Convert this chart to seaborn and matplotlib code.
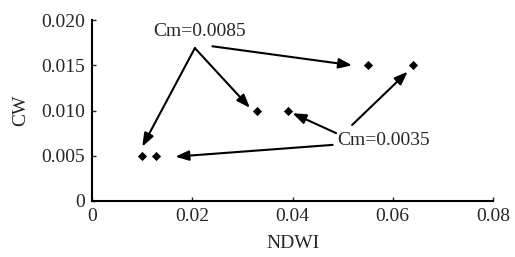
import matplotlib
matplotlib.use("Agg")
import matplotlib.pyplot as plt
import seaborn as sns
import pandas as pd

# points
ndwi_high = [0.055, 0.033, 0.010]   # Cm=0.0085
cw_high = [0.015, 0.010, 0.005]
ndwi_low = [0.064, 0.039, 0.0127]   # Cm=0.0035
cw_low = [0.015, 0.010, 0.005]

x_ticks = [0, 0.02, 0.04, 0.06, 0.08]
x_labels = ["0", "0.02", "0.04", "0.06", "0.08"]
y_ticks = [0, 0.005, 0.010, 0.015, 0.020]
y_labels = ["0", "0.005", "0.010", "0.015", "0.020"]

df = pd.DataFrame({
    "NDWI": ndwi_high + ndwi_low,
    "CW": cw_high + cw_low,
    "Cm": ["0.0085"] * 3 + ["0.0035"] * 3,
})

sns.set_style("ticks")
plt.rcParams["font.family"] = ["Liberation Serif", "DejaVu Serif"]

fig = plt.figure(figsize=(5.15, 2.57), dpi=100)
ax = fig.add_axes([0.179, 0.218, 0.778, 0.704])

sns.scatterplot(data=df, x="NDWI", y="CW", marker="D", s=22, color="black",
                edgecolor="black", linewidth=0, legend=False, ax=ax)

ax.set_xlim(0, 0.08)
ax.set_ylim(0, 0.020)
ax.set_xticks(x_ticks)
ax.set_xticklabels(x_labels, fontsize=14)
ax.set_yticks(y_ticks)
ax.set_yticklabels(y_labels, fontsize=14)
ax.tick_params(axis="both", direction="in", length=3, width=1, pad=5)
ax.set_xlabel("NDWI", fontsize=14, labelpad=7)
ax.set_ylabel("CW", fontsize=14, labelpad=9)
sns.despine(ax=ax)
for s in ["left", "bottom"]:
    ax.spines[s].set_linewidth(1.5)
    ax.spines[s].set_color("black")

arrow = dict(arrowstyle="-|>,head_length=0.8,head_width=0.3", color="black",
             lw=1.5, shrinkA=0, shrinkB=0)

ax.text(0.0215, 0.0187, "Cm=0.0085", fontsize=14, ha="center", va="center")
# Cm=0.0085 arrows
ax.annotate("", xy=(0.0519, 0.0150), xytext=(0.024, 0.0171), arrowprops=arrow)
ax.annotate("", xy=(0.0315, 0.0103), xytext=(0.0205, 0.0169), arrowprops=arrow)
ax.annotate("", xy=(0.0100, 0.0060), xytext=(0.0205, 0.0169), arrowprops=arrow)

ax.text(0.0490, 0.0067, "Cm=0.0035", fontsize=14, ha="left", va="center")
# Cm=0.0035 arrows
ax.annotate("", xy=(0.0630, 0.0143), xytext=(0.0519, 0.0084), arrowprops=arrow)
ax.annotate("", xy=(0.0400, 0.0097), xytext=(0.0487, 0.0075), arrowprops=arrow)
ax.annotate("", xy=(0.0166, 0.0049), xytext=(0.0480, 0.0062), arrowprops=arrow)

fig.savefig("out.png", dpi=100)
